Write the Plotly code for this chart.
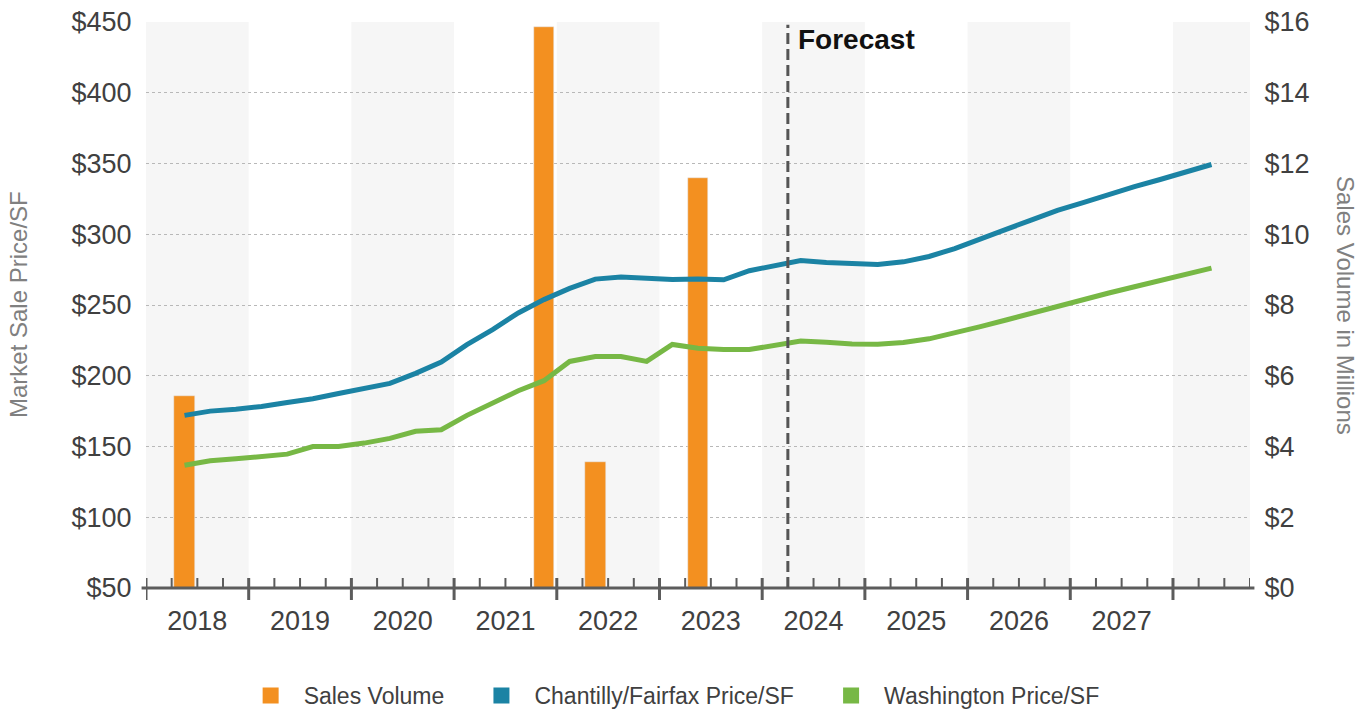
import plotly.graph_objects as go

# ---------------- data ----------------
years = [2018, 2019, 2020, 2021, 2022, 2023, 2024, 2025, 2026, 2027, 2028]
quarters = [f"{y} Q{q}" for y in years for q in (1, 2, 3, 4)][:43]  # 2018 Q1 .. 2028 Q3
year_labels = ["2018", "2019", "2020", "2021", "2022", "2023", "2024", "2025", "2026", "2027"]

price_start = "2018 Q2"
chantilly_price = [172, 175, 176.4, 178.3, 181.1, 183.7, 187.5, 191.3, 194.6, 201.7,
                   209.7, 222, 232.6, 244.4, 253.8, 261.7, 268.3, 269.7, 268.8, 268.1,
                   268.3, 267.8, 274.2, 278, 281.5, 280, 278.9, 278.6, 280.5, 284.3,
                   289.9, 297, 303.5, 310.1, 316.9, 322.3, 328.2, 333.6, 338.7, 344.1,
                   349.3]
washington_price = [136.8, 139.9, 141.3, 143.2, 144.6, 150, 150, 152.4, 155.7, 160.8,
                    161.8, 172, 180.8, 189.4, 196.5, 210.1, 213.6, 213.6, 210.1, 222.1,
                    219.5, 218.5, 218.5, 222, 224.6, 223.7, 222.5, 222.3, 223.5, 226.1,
                    230, 234.7, 239.4, 244.4, 249.3, 253.8, 258.5, 262.9, 267.1, 271.6,
                    276.1]
sales_quarters = ["2018 Q2", "2021 Q4", "2022 Q2", "2023 Q2"]
sales_volume = [5.43, 15.86, 3.56, 11.59]  # $ millions
forecast_start = "2024 Q2"

# ---------------- styling ----------------
ORANGE = "#f39020"
BLUE = "#1b83a4"
GREEN = "#77b845"
TXT = "#404040"
FONT = "Liberation Sans, Arial, sans-serif"
NB = "\u00a0"

i0 = quarters.index(price_start)
price_x = list(range(i0, i0 + len(chantilly_price)))
sales_x = [quarters.index(q) for q in sales_quarters]
x_min, x_max = -0.5, len(quarters) - 0.5

fig = go.Figure()

# bars on primary (right) axis, lines on overlaying (left) axis so lines sit on top
fig.add_trace(go.Bar(x=sales_x, y=sales_volume, marker_color=ORANGE, width=0.8,
                     yaxis="y", showlegend=False, legendgroup="sv", name="Sales Volume"))
fig.add_trace(go.Scatter(x=price_x, y=chantilly_price, mode="lines", yaxis="y2",
                         line=dict(color=BLUE, width=5), showlegend=False,
                         legendgroup="cf", name="Chantilly/Fairfax Price/SF"))
fig.add_trace(go.Scatter(x=price_x, y=washington_price, mode="lines", yaxis="y2",
                         line=dict(color=GREEN, width=5), showlegend=False,
                         legendgroup="wa", name="Washington Price/SF"))

# legend entries (square swatches)
for name, col, grp in [("Sales Volume" + NB * 3, ORANGE, "sv"),
                       ("Chantilly/Fairfax Price/SF" + NB * 3, BLUE, "cf"),
                       ("Washington Price/SF", GREEN, "wa")]:
    fig.add_trace(go.Scatter(x=[None], y=[None], mode="markers", name=name,
                             legendgroup=grp, yaxis="y2",
                             marker=dict(symbol="square", size=18, color=col)))

shapes = []
# alternating year bands
for k, y in enumerate(years):
    if k % 2 == 0:
        a = 4 * k - 0.5
        b = min(4 * k + 3.5, x_max)
        shapes.append(dict(type="rect", xref="x", yref="paper", x0=a, x1=b, y0=0, y1=1,
                           fillcolor="#f6f6f6", line_width=0, layer="below"))
# axis line
shapes.append(dict(type="line", xref="paper", yref="paper", x0=-0.004, x1=1.004, y0=0, y1=0,
                   line=dict(color="#5c5c5c", width=3), layer="above"))
# ticks
PH = 566.0
for j in range(len(quarters) + 1):
    xb = j - 0.5
    if j % 4 == 0 and j < len(quarters):
        shapes.append(dict(type="line", xref="x", yref="paper", x0=xb, x1=xb,
                           y0=-12 / PH, y1=10 / PH, line=dict(color="#5c5c5c", width=3),
                           layer="above"))
    else:
        shapes.append(dict(type="line", xref="x", yref="paper", x0=xb, x1=xb,
                           y0=0, y1=10 / PH, line=dict(color="#5c5c5c", width=2),
                           layer="above"))
# forecast divider
fx = quarters.index(forecast_start) - 0.5
shapes.append(dict(type="line", xref="x", yref="paper", x0=fx, x1=fx, y0=0, y1=0.995,
                   line=dict(color="#555555", width=3, dash="11px,5px"), layer="above"))

annotations = [
    dict(x=fx, y=1, xref="x", yref="paper", xanchor="left", yanchor="top", xshift=8,
         text="<b>Forecast</b>", showarrow=False,
         font=dict(family=FONT, size=28, color="#111111")),
    dict(x=0, y=0.5, xref="paper", yref="paper", xanchor="center", yanchor="middle",
         xshift=-128, textangle=-90, text="Market Sale Price/SF", showarrow=False,
         font=dict(family=FONT, size=24, color="#808080")),
    dict(x=1, y=0.5, xref="paper", yref="paper", xanchor="center", yanchor="middle",
         xshift=96, textangle=90, text="Sales Volume in Millions", showarrow=False,
         font=dict(family=FONT, size=24, color="#808080")),
]

fig.update_layout(
    width=1369, height=709,
    margin=dict(l=146, r=119, t=22, b=121, autoexpand=False),
    paper_bgcolor="white", plot_bgcolor="white",
    font=dict(family=FONT, color=TXT),
    bargap=0,
    xaxis=dict(range=[x_min, x_max], showgrid=False, zeroline=False, showline=False,
               automargin=False, tickmode="array",
               tickvals=[4 * k + 1.5 for k in range(len(year_labels))],
               ticktext=year_labels, ticks="outside", ticklen=9,
               tickcolor="rgba(0,0,0,0)", tickfont=dict(size=27, color=TXT)),
    yaxis=dict(range=[0, 16], dtick=2, tick0=0, side="right", tickprefix="$",
               showgrid=True, gridcolor="#b8b8b8", griddash="dot", gridwidth=1,
               zeroline=False, showline=False, ticks="outside", ticklen=8,
               automargin=False,
               tickcolor="rgba(0,0,0,0)", tickfont=dict(size=27, color=TXT)),
    yaxis2=dict(range=[50, 450], dtick=50, tick0=50, side="left", overlaying="y",
                tickprefix="$", showgrid=False, zeroline=False, showline=False,
                automargin=False,
                ticks="outside", ticklen=8, tickcolor="rgba(0,0,0,0)",
                tickfont=dict(size=27, color=TXT)),
    legend=dict(orientation="h", x=0.083, xanchor="left", y=-0.152, yanchor="top",
                itemwidth=56, font=dict(size=23, color=TXT), bgcolor="rgba(0,0,0,0)",
                itemclick="toggle"),
    shapes=shapes,
    annotations=annotations,
)

fig.write_html("out.html")
